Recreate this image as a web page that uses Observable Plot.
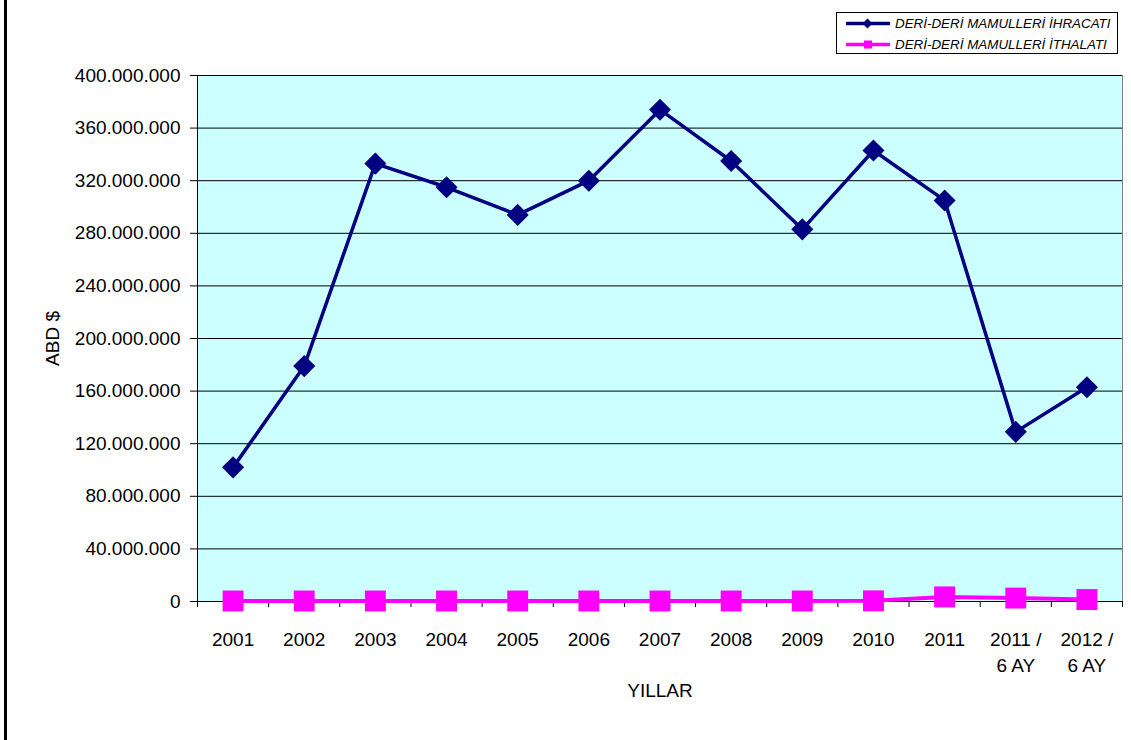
<!DOCTYPE html>
<html>
<head>
<meta charset="utf-8">
<script src="https://cdn.jsdelivr.net/npm/d3@7"></script>
<script src="https://cdn.jsdelivr.net/npm/@observablehq/plot@0.6"></script>
<style>
  html, body { margin: 0; padding: 0; background: #fff; }
  #wrap { position: relative; width: 1131px; height: 740px; overflow: hidden; font-family: "Liberation Sans", Arial, sans-serif; }
  #bar { position: absolute; left: 4px; top: 0; width: 3px; height: 740px; background: #000; }
  #legend { position: absolute; left: 836px; top: 12px; width: 280px; height: 40px; border: 1px solid #000; background: #fff; }
  .row { position: absolute; left: 9px; height: 20px; display: flex; align-items: center; }
  .row span { font-style: italic; font-size: 13.4px; color: #000; margin-left: 5px; white-space: nowrap; }
</style>
</head>
<body>
<div id="wrap">
  <div id="bar"></div>
  <div id="chart"></div>
  <div id="legend"></div>
</div>
<script>
const categories = ["2001","2002","2003","2004","2005","2006","2007","2008","2009","2010","2011","2011 /\n6 AY","2012 /\n6 AY"];
const exportsUSD = [102e6, 179e6, 333e6, 315e6, 294e6, 320e6, 374e6, 335e6, 283e6, 343e6, 305e6, 129e6, 163e6];
const importsUSD = [0.4e6, 0.4e6, 0.4e6, 0.4e6, 0.4e6, 0.4e6, 0.4e6, 0.4e6, 0.4e6, 0.5e6, 3.5e6, 2.6e6, 1.5e6];
const yTicks = [0, 40e6, 80e6, 120e6, 160e6, 200e6, 240e6, 280e6, 320e6, 360e6, 400e6];
const seriesNames = ["DERİ-DERİ MAMULLERİ İHRACATI", "DERİ-DERİ MAMULLERİ İTHALATI"];
const seriesColors = ["#000080", "#FF00FF"];

const idx = categories.map((_, i) => i);
const xDomain = [-0.5, categories.length - 0.5];
const boundaries = d3.range(categories.length + 1).map(i => i - 0.5);
const exp = idx.map(i => ({i, v: exportsUSD[i]}));
const imp = idx.map(i => ({i, v: importsUSD[i]}));
const fmt = d3.formatLocale({decimal: ",", thousands: ".", grouping: [3], currency: ["", "$"]}).format(",");

const chart = Plot.plot({
  width: 1131,
  height: 740,
  marginLeft: 197,
  marginRight: 9,
  marginTop: 75,
  marginBottom: 139,
  style: {fontFamily: "Liberation Sans, Arial, sans-serif", fontSize: "19px", color: "#000", background: "transparent"},
  x: {type: "linear", domain: xDomain},
  y: {domain: [0, 400e6]},
  marks: [
    Plot.frame({fill: "#CCFFFF", stroke: "#808080"}),
    Plot.gridY(yTicks, {stroke: "#000", strokeOpacity: 1}),
    Plot.axisY(yTicks, {tickSize: 7, tickPadding: 10, tickFormat: fmt, stroke: "#000", label: "ABD $", labelArrow: "none", labelAnchor: "center", labelOffset: 152, fontSize: 19}),
    Plot.ruleX([xDomain[0]], {stroke: "#000"}),
    Plot.ruleY([0], {stroke: "#000"}),
    Plot.axisX(boundaries, {tickSize: 6, tickFormat: () => "", stroke: "#000", label: null}),
    Plot.axisX(idx, {tickSize: 0, tickPadding: 26, tickFormat: i => categories[i], lineHeight: 1.37, label: "YILLAR", labelArrow: "none", labelAnchor: "center", labelOffset: 95, fontSize: 19}),
    Plot.line(exp, {x: "i", y: "v", stroke: seriesColors[0], strokeWidth: 3.5}),
    Plot.dot(exp, {x: "i", y: "v", symbol: "square", rotate: 45, r: 8.8, fill: seriesColors[0], stroke: "none"}),
    Plot.line(imp, {x: "i", y: "v", stroke: seriesColors[1], strokeWidth: 4}),
    Plot.dot(imp, {x: "i", y: "v", symbol: "square", r: 11.8, fill: seriesColors[1], stroke: "none"})
  ]
});
document.getElementById("chart").appendChild(chart);

// legend
const legend = document.getElementById("legend");
seriesNames.forEach((name, k) => {
  const row = document.createElement("div");
  row.className = "row";
  row.style.top = (k * 21) + "px";
  const marker = k === 0
    ? `<rect x="18" y="5" width="7" height="7" transform="rotate(45 21.5 8.5)" fill="${seriesColors[k]}"/>`
    : `<rect x="18" y="4.5" width="8" height="8" fill="${seriesColors[k]}"/>`;
  row.innerHTML = `<svg width="44" height="17"><line x1="1" y1="8.5" x2="43" y2="8.5" stroke="${seriesColors[k]}" stroke-width="3.5" stroke-linecap="round"/>${marker}</svg><span>${name}</span>`;
  legend.appendChild(row);
});
</script>
</body>
</html>
